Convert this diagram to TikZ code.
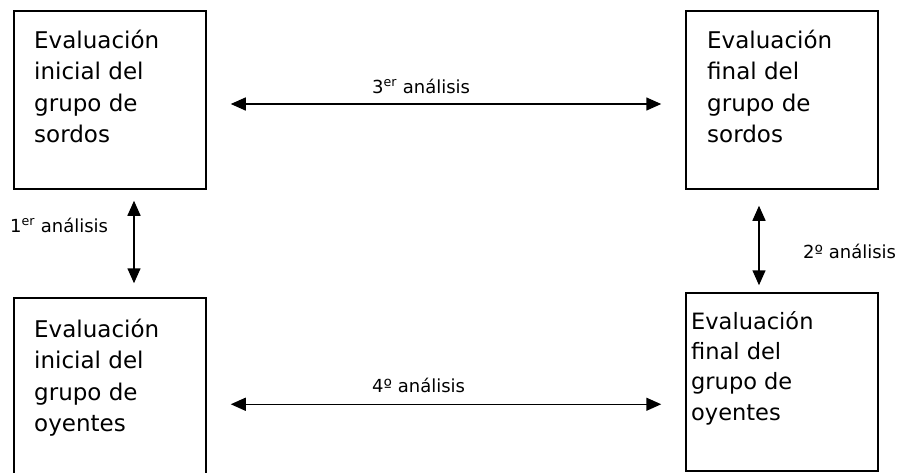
\documentclass[tikz,border=0pt]{standalone}
\usepackage{fontspec}
\setmainfont{DejaVu Sans}
\usetikzlibrary{arrows.meta}
\tikzset{
  box/.style={draw, line width=1.5pt, rectangle, minimum width=192pt, inner sep=0pt},
  boxtext/.style={anchor=north west, inner sep=0pt, align=left, font=\fontsize{23}{31.3}\selectfont},
  lbl/.style={anchor=base west, inner sep=0pt, font=\fontsize{18}{20}\selectfont},
  arr/.style={line width=1.5pt, {Triangle[length=15pt,width=13pt]}-{Triangle[length=15pt,width=13pt]}}
}
\begin{document}
\begin{tikzpicture}[x=1pt,y=-1pt]
\useasboundingbox (0,0) rectangle (900,472);
\node[box, minimum height=178pt] (TL) at (110,100) {};
\node[box, minimum height=178pt] (TR) at (782,100) {};
\node[box, minimum height=182pt] (BL) at (110,389) {};
\node[box, minimum height=178pt] (BR) at (782,382) {};
\node[boxtext] (TLt) at (34,30) {Evaluación\\inicial del\\grupo de\\sordos};
\node[boxtext] (TRt) at (707,30) {Evaluación\\final del\\grupo de\\sordos};
\node[boxtext] (BLt) at (34,319) {Evaluación\\inicial del\\grupo de\\oyentes};
\node[boxtext, font=\fontsize{22.5}{30.3}\selectfont] (BRt) at (691,311) {Evaluación\\final del\\grupo de\\oyentes};
\draw[arr] ([shift={(24,4)}]TL.east) -- ([shift={(-24,4)}]TR.west);
\draw[arr] ([shift={(24,107)}]BL.north east) -- ([shift={(-24,112)}]BR.north west);
\draw[arr] ([shift={(24,11)}]TL.south) -- ([shift={(24,-14)}]BL.north);
\draw[arr] ([shift={(-23,16)}]TR.south) -- ([shift={(-23,-7)}]BR.north);
\node[lbl] (l3) at (372,93) {3\textsuperscript{er} análisis};
\node[lbl] (l4) at (372,392) {4º análisis};
\node[lbl] (l2) at (803,258) {2º análisis};
\node[lbl] (l1) at (10,232) {1\textsuperscript{er} análisis};
\end{tikzpicture}
\end{document}
